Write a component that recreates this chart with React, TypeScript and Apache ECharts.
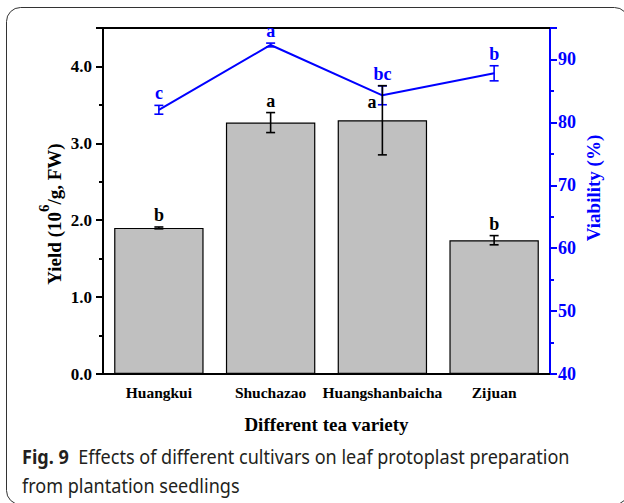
import React, { useEffect, useRef } from "react";
import * as echarts from "echarts";

const categories = ["Huangkui", "Shuchazao", "Huangshanbaicha", "Zijuan"];
const yieldValues = [1.9, 3.27, 3.3, 1.74];
const yieldErrors = [0.012, 0.13, 0.45, 0.06];
const yieldLetters = ["b", "a", "a", "b"];
const yieldLetterSides = ["top", "top", "left", "top"];
const viabilityValues = [82.0, 92.3, 84.3, 87.8];
const viabilityErrors = [0.7, 0.3, 1.5, 1.2];
const viabilityLetters = ["c", "a", "bc", "b"];
const yieldAxisRange = [0, 4.5];
const yieldAxisStep = 1;
const viabilityAxisRange = [40, 95];
const viabilityAxisStep = 10;

const xTitle = "Different tea variety";
const yTitleParts = ["Yield (10", "6", "/g, FW)"];
const y2Title = "Viability (%)";
const captionBold = "Fig. 9";
const captionLine1 = "Effects of different cultivars on leaf protoplast preparation";
const captionLine2 = "from plantation seedlings";

const SERIF = '"Liberation Serif", "Times New Roman", serif';
const SANS = '"Noto Sans", "Open Sans", sans-serif';
const BLUE = "#0000ff";

function measure(text: string, font: string): number {
  const c = document.createElement("canvas").getContext("2d");
  if (!c) return text.length * 9;
  c.font = font;
  return c.measureText(text).width;
}

function errorSeries(
  values: number[],
  errors: number[],
  letters: string[],
  sides: string[],
  yAxisIndex: number,
  color: string,
  z: number
) {
  return {
    type: "custom",
    xAxisIndex: 0,
    yAxisIndex,
    z,
    silent: true,
    data: values.map((v, i) => [i, v, errors[i]]),
    renderItem: (params: any, api: any) => {
      const i = api.value(0);
      const v = api.value(1);
      const e = api.value(2);
      const top = api.coord([i, v + e]);
      const bot = api.coord([i, v - e]);
      const mid = api.coord([i, v + e / 2]);
      const x = top[0];
      const cw = 4.5;
      const ls = { stroke: color, lineWidth: 1.6 };
      const side = sides[params.dataIndex];
      const font = `bold 18px ${SERIF}`;
      const label =
        side === "left"
          ? {
              type: "text",
              x: x - 6,
              y: mid[1] - 1,
              style: { text: letters[params.dataIndex], fill: color, font, align: "right", verticalAlign: "middle" },
            }
          : {
              type: "text",
              x,
              y: top[1] - 3,
              style: { text: letters[params.dataIndex], fill: color, font, align: "center", verticalAlign: "bottom" },
            };
      return {
        type: "group",
        children: [
          { type: "line", shape: { x1: x, y1: top[1], x2: x, y2: bot[1] }, style: ls },
          { type: "line", shape: { x1: x - cw, y1: top[1], x2: x + cw, y2: top[1] }, style: ls },
          { type: "line", shape: { x1: x - cw, y1: bot[1], x2: x + cw, y2: bot[1] }, style: ls },
          label,
        ],
      };
    },
  };
}

export default function App() {
  const ref = useRef<HTMLDivElement>(null);
  useEffect(() => {
    document.body.style.margin = "0";
    if (!ref.current) return;
    const chart = echarts.init(ref.current, undefined, { renderer: "svg" });

    const capFontSize = 19;
    const boldW = measure(captionBold + "  ", `bold ${capFontSize}px ${SANS}`);
    const restW = measure(captionLine1, `${capFontSize}px ${SANS}`);
    const capScale = 548 / (boldW + restW);

    const option: any = {
      animation: false,
      backgroundColor: "#ffffff",
      grid: { left: 103, right: 74, top: 28, bottom: 129, containLabel: false },
      xAxis: [
        {
          type: "category",
          data: categories,
          position: "bottom",
          boundaryGap: true,
          axisLine: { lineStyle: { color: "#000", width: 2 } },
          axisTick: { alignWithLabel: true, interval: 0, length: 7, lineStyle: { color: "#000", width: 2 } },
          axisLabel: { color: "#000", fontFamily: SERIF, fontWeight: "bold", fontSize: 15.5, margin: 10, interval: 0 },
          splitLine: { show: false },
        },
        {
          type: "category",
          data: categories,
          position: "bottom",
          boundaryGap: true,
          axisLine: { show: false },
          axisTick: { alignWithLabel: false, interval: 0, length: 4, lineStyle: { color: "#000", width: 2 } },
          axisLabel: { show: false },
          splitLine: { show: false },
        },
        {
          type: "category",
          data: categories,
          position: "top",
          axisLine: { lineStyle: { color: "#000", width: 2 } },
          axisTick: { show: false },
          axisLabel: { show: false },
          splitLine: { show: false },
        },
      ],
      yAxis: [
        {
          type: "value",
          position: "left",
          min: yieldAxisRange[0],
          max: yieldAxisRange[1],
          interval: yieldAxisStep,
          axisLine: { show: true, lineStyle: { color: "#000", width: 2 } },
          axisTick: { show: true, length: 7, lineStyle: { color: "#000", width: 2 } },
          minorTick: { show: true, splitNumber: 2, length: 4, lineStyle: { color: "#000", width: 2 } },
          axisLabel: {
            color: "#000",
            fontFamily: SERIF,
            fontWeight: "bold",
            fontSize: 17,
            margin: 11,
            showMaxLabel: false,
            formatter: (v: number) => v.toFixed(1),
          },
          splitLine: { show: false },
        },
        {
          type: "value",
          position: "right",
          min: viabilityAxisRange[0],
          max: viabilityAxisRange[1],
          interval: viabilityAxisStep,
          axisLine: { show: true, lineStyle: { color: BLUE, width: 2 } },
          axisTick: { show: true, length: 7, lineStyle: { color: BLUE, width: 2 } },
          minorTick: { show: true, splitNumber: 2, length: 4, lineStyle: { color: BLUE, width: 2 } },
          axisLabel: {
            color: BLUE,
            fontFamily: SERIF,
            fontWeight: "bold",
            fontSize: 18,
            margin: 8,
            showMaxLabel: false,
          },
          splitLine: { show: false },
        },
      ],
      series: [
        {
          type: "bar",
          xAxisIndex: 0,
          yAxisIndex: 0,
          data: yieldValues,
          barWidth: "80%",
          z: 2,
          itemStyle: { color: "#c0c0c0", borderColor: "#000", borderWidth: 1.2 },
          silent: true,
        },
        {
          type: "line",
          xAxisIndex: 0,
          yAxisIndex: 1,
          data: viabilityValues,
          symbol: "none",
          z: 3,
          lineStyle: { color: BLUE, width: 2 },
          silent: true,
        },
        errorSeries(viabilityValues, viabilityErrors, viabilityLetters, ["top", "top", "top", "top"], 1, BLUE, 4),
        errorSeries(yieldValues, yieldErrors, yieldLetters, yieldLetterSides, 0, "#000", 5),
      ],
      graphic: [
        {
          type: "rect",
          shape: { x: 6.5, y: 7.5, width: 622, height: 497, r: 14 },
          style: { fill: "none", stroke: "#333", lineWidth: 1 },
          silent: true,
        },
        {
          type: "text",
          x: 50,
          y: 214,
          rotation: Math.PI / 2,
          style: {
            text: `{a|${yTitleParts[0]}}{s|${yTitleParts[1]}}{a|${yTitleParts[2]}}`,
            align: "center",
            verticalAlign: "middle",
            rich: {
              a: { fontFamily: SERIF, fontWeight: "bold", fontSize: 19, fill: "#000", lineHeight: 28, verticalAlign: "bottom" },
              s: { fontFamily: SERIF, fontWeight: "bold", fontSize: 15, fill: "#000", lineHeight: 16, verticalAlign: "top" },
            },
          },
        },
        {
          type: "text",
          x: 593,
          y: 188,
          rotation: Math.PI / 2,
          style: {
            text: y2Title,
            fill: BLUE,
            font: `bold 19px ${SERIF}`,
            align: "center",
            verticalAlign: "middle",
          },
        },
        {
          type: "text",
          x: 326.5,
          y: 424,
          style: {
            text: xTitle,
            fill: "#000",
            font: `bold 19px ${SERIF}`,
            align: "center",
            verticalAlign: "middle",
          },
        },
        {
          type: "text",
          x: 22,
          y: 456,
          scaleX: capScale,
          style: {
            text: `{b|${captionBold}}{r|  ${captionLine1}}`,
            align: "left",
            verticalAlign: "middle",
            rich: {
              b: { fontFamily: SANS, fontWeight: "bold", fontSize: capFontSize, fill: "#231f20" },
              r: { fontFamily: SANS, fontSize: capFontSize, fill: "#231f20" },
            },
          },
        },
        {
          type: "text",
          x: 22,
          y: 485,
          scaleX: capScale,
          style: {
            text: captionLine2,
            fill: "#231f20",
            font: `${capFontSize}px ${SANS}`,
            align: "left",
            verticalAlign: "middle",
          },
        },
      ],
    };
    chart.setOption(option);
    return () => chart.dispose();
  }, []);
  return <div ref={ref} style={{ width: 624, height: 503 }} />;
}
